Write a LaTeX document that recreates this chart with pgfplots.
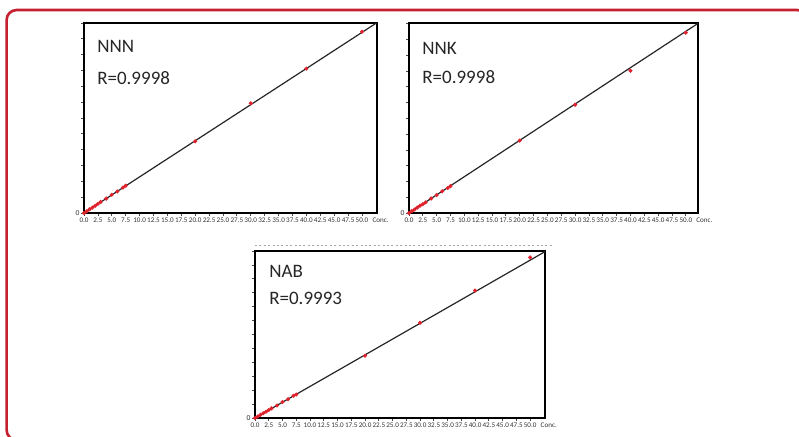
\documentclass[border=0pt]{standalone}
\usepackage{fontspec}
\setmainfont{Carlito}
\usepackage{pgfplots}
\pgfplotsset{compat=1.18}
\definecolor{framered}{RGB}{196,32,48}
\definecolor{ptred}{RGB}{225,35,45}
\pgfplotsset{
  calib/.style={
    scale only axis, anchor=south west,
    xmin=0, ymin=0,
    axis line style={line width=0.75pt, black},
    tick align=outside, major tick length=1.5pt,
    tick style={black!70, line width=0.4pt},
    xtick pos=lower, ytick pos=left,
    xtick={0,2.5,...,50},
    /pgf/number format/assume math mode=true,
    xticklabel style={font=\fontsize{3.55}{4.2}\selectfont, text=black!80, inner sep=0.6pt,
      /pgf/number format/fixed, /pgf/number format/fixed zerofill, /pgf/number format/precision=1},
    yticklabels={},
    extra y ticks={0}, extra y tick labels={0},
    extra y tick style={yticklabel style={font=\fontsize{3.8}{4.5}\selectfont, text=black!80, inner sep=0.6pt}},
    clip mode=individual,
  },
  fitline/.style={black!85, line width=0.6pt, no marks},
  pts/.style={only marks, mark=*, mark size=0.8pt, ptred, mark options={draw=ptred, fill=ptred}},
}
\tikzset{
  lbl/.style={anchor=base west, font=\fontsize{9.5}{11}\selectfont, text=black!85, inner sep=0pt},
  conc/.style={anchor=north west, font=\fontsize{3.55}{4.2}\selectfont, text=black!80, inner sep=0.6pt, xshift=4.5pt, yshift=-1.5pt},
}
\begin{document}
\begin{tikzpicture}
\useasboundingbox (0,0) rectangle (399.5pt,218pt);
\clip (0,0) rectangle (399.5pt,218pt);
\fill[white] (0,0) rectangle (399.5pt,218pt);
\draw[framered, line width=1.3pt, rounded corners=5pt] (3.3pt,-2pt) rectangle (403.5pt,213pt);
% faint dotted line above NAB
\draw[black!35, line width=0.4pt, dash pattern=on 1pt off 1.2pt] (127.5pt,95.5pt) -- (276pt,95.5pt);

% NNN
\begin{axis}[calib, at={(42pt,111.5pt)}, width=146.5pt, height=95pt,
  xmax=52.7, ymax=52.5, ytick={0,4.375,...,52.5}]
  \addplot[fitline] coordinates {(0,0) (52.7,52.6)};
  \addplot[pts] coordinates {(0,0) (0.5,0.5) (1,1.02) (1.5,1.48) (2,1.98) (2.5,2.52) (3,3.05) (4,3.97) (5,5.04) (6,5.95) (7,7.02) (7.5,7.55) (20,19.8) (30,30.3) (40,39.9) (50,50.1)};
  \node[lbl] at (rel axis cs:0.044,0.847) {NNN};
  \node[lbl] at (rel axis cs:0.044,0.674) {R=0.9998};
  \node[conc] at (axis cs:50,0) {Conc.};
\end{axis}

% NNK
\begin{axis}[calib, at={(204.5pt,111.5pt)}, width=144.5pt, height=95pt,
  xmax=52.2, ymax=53.0, ytick={0,4.4,...,53}]
  \addplot[fitline] coordinates {(0,0) (52.2,52.9)};
  \addplot[pts] coordinates {(0,0) (0.5,0.52) (1,0.98) (1.5,1.52) (2,2.03) (2.5,2.47) (3,2.96) (4,4.05) (5,5.0) (6,6.04) (7,6.97) (7.5,7.5) (20,20.2) (30,30.2) (40,39.7) (50,50.3)};
  \node[lbl] at (rel axis cs:0.045,0.836) {NNK};
  \node[lbl] at (rel axis cs:0.045,0.683) {R=0.9998};
  \node[conc] at (axis cs:50,0) {Conc.};
\end{axis}

% NAB
\begin{axis}[calib, at={(127.5pt,9pt)}, width=145pt, height=83.5pt,
  xmax=52.7, ymax=52.8, ytick={0,4.4,...,52.8}]
  \addplot[fitline] coordinates {(0,0) (52.7,52.6)};
  \addplot[pts] coordinates {(0,0) (0.5,0.48) (1,1.03) (1.5,1.49) (2,1.97) (2.5,2.53) (3,3.04) (4,3.95) (5,5.05) (6,5.96) (7,7.04) (7.5,7.45) (20,19.7) (30,30.1) (40,40.3) (50,50.8)};
  \node[lbl] at (rel axis cs:0.048,0.844) {NAB};
  \node[lbl] at (rel axis cs:0.048,0.677) {R=0.9993};
  \node[conc] at (axis cs:50,0) {Conc.};
\end{axis}
\end{tikzpicture}
\end{document}
